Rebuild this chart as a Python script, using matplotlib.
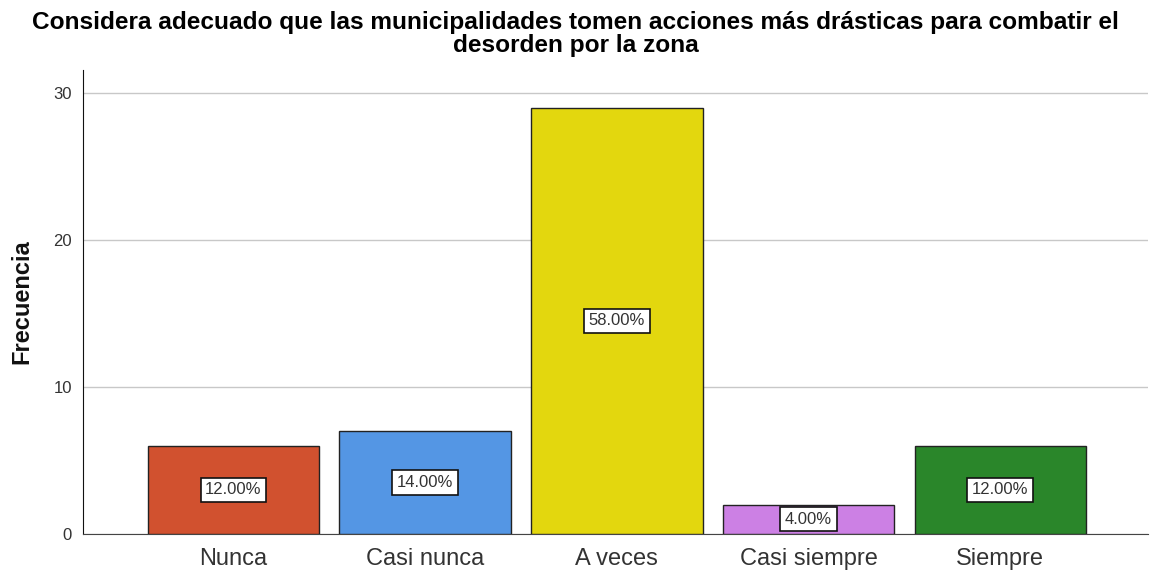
import numpy as np
import matplotlib
matplotlib.use("Agg")
import matplotlib.pyplot as plt

plt.rcParams['font.family'] = ['Liberation Sans', 'DejaVu Sans']

categorias = ["Nunca", "Casi nunca", "A veces", "Casi siempre", "Siempre"]
frecuencia = [6, 7, 29, 2, 6]
porcentajes = ["12.00%", "14.00%", "58.00%", "4.00%", "12.00%"]
colores = ["#D1512F", "#5496E4", "#E3D70E", "#CC80E4", "#2A862A"]
yticks = [0, 10, 20, 30]

fig = plt.figure(figsize=(11.51, 5.71), dpi=100)
ax = fig.add_axes([0.0721, 0.0648, 0.9253, 0.8126])

x = np.arange(len(categorias))
ax.bar(x, frecuencia, width=0.895, color=colores, edgecolor="#222222", linewidth=1.0, zorder=3)

# etiquetas de porcentaje en el centro de cada barra
for xi, f, p in zip(x, frecuencia, porcentajes):
    ax.text(xi, f / 2, p, ha="center", va="center", fontsize=12, color="#333333", zorder=4,
            bbox=dict(boxstyle="square,pad=0.28", facecolor="white", edgecolor="#111111", linewidth=1.2))

ax.set_xlim(-0.785, 4.77)
ax.set_ylim(0, 31.56)
ax.set_yticks(yticks)
ax.set_xticks(x)
ax.set_xticklabels(categorias, fontsize=17, color="#333333")
ax.tick_params(axis="y", labelsize=12, labelcolor="#333333", length=0, pad=8)
ax.tick_params(axis="x", length=0, pad=10)
ax.yaxis.grid(True, color="#c8c8c8", linewidth=1, zorder=0)
ax.set_axisbelow(True)

for s in ["top", "right"]:
    ax.spines[s].set_visible(False)
ax.spines["left"].set_color("#111111")
ax.spines["bottom"].set_color("#444444")

ax.set_ylabel("Frecuencia", fontsize=17, fontweight="bold", color="#111111", labelpad=14)
fig.text(0.5, 0.981, "Considera adecuado que las municipalidades tomen acciones más drásticas para combatir el\ndesorden por la zona",
         ha="center", va="top", fontsize=17.6, fontweight="bold", linespacing=1.0)

fig.savefig("out.png", dpi=100)
